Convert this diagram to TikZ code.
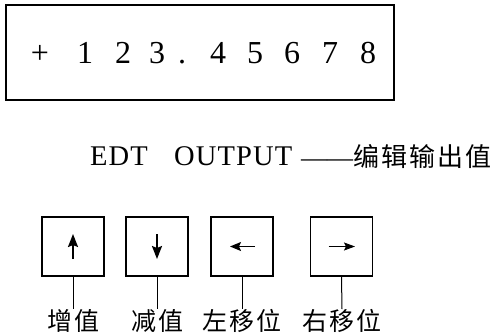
\documentclass[tikz,border=0pt]{standalone}
\usepackage{fontspec}
\setmainfont{Liberation Serif}
\newfontfamily\lsp[LetterSpace=4]{Liberation Serif}
\newfontfamily\cjk[LetterSpace=8]{Noto Sans CJK SC}
\usetikzlibrary{arrows.meta}
\begin{document}
\begin{tikzpicture}[x=1pt,y=-1pt,
  digit/.style={anchor=base,inner sep=0pt,font=\fontsize{32}{36}\selectfont},
  btn/.style={draw,line width=1.1pt,minimum width=62pt,minimum height=59pt,inner sep=0pt},
  lbl/.style={inner sep=0pt,font=\fontsize{25}{28}\selectfont\cjk},
  conn/.style={line width=1pt},
  arrbig/.style={line width=1.9pt,-{Stealth[length=13pt,width=10pt,inset=2pt]}},
  arrmid/.style={line width=1.4pt,-{Stealth[length=11pt,width=9pt,inset=2pt]}},
  arrthin/.style={line width=1pt,-{Stealth[length=11pt,width=8pt,inset=2pt]}}]
\useasboundingbox (0,0) rectangle (498,335);
\fill[white] (0,0) rectangle (498,335);
% display
\node[draw,line width=2pt,minimum width=388pt,minimum height=95pt,inner sep=0pt] (disp) at (200,52.5) {};
\foreach \c/\x [count=\i] in {+/40,1/85,2/123,3/157,./182,4/218,5/255,6/292,7/330,8/368}
  \node[digit] (d\i) at (\x,63.5) {\c};
% text line
\node[anchor=base west,inner sep=0pt,font=\fontsize{28.5}{30}\selectfont\lsp] (edt) at (90,165) {EDT};
\node[anchor=base west,inner sep=0pt,font=\fontsize{28.5}{30}\selectfont\lsp] (out) at (174,165) {OUTPUT};
\node[anchor=base west,inner sep=0pt,font=\fontsize{26}{28}\selectfont] (cn) at (301,166) {——{\cjk 编辑输出值}};
% buttons
\node[btn] (b1) at (73,246.5) {};
\node[btn] (b2) at (157,246.5) {};
\node[btn] (b3) at (242,246.5) {};
\node[btn] (b4) at (341.5,246.5) {};
\draw[arrbig] ([yshift=-12.5pt]b1.center) -- ([yshift=12.5pt]b1.center);
\draw[arrbig] ([yshift=12.5pt]b2.center) -- ([yshift=-12.5pt]b2.center);
\draw[arrmid] ([xshift=13pt]b3.center) -- ([xshift=-12pt]b3.center);
\draw[arrthin] ([xshift=-13pt]b4.center) -- ([xshift=13.5pt]b4.center);
% labels
\node[lbl] (l1) at (73,321) {增值};
\node[lbl] (l2) at (157,321) {减值};
\node[lbl] (l3) at (242,321) {左移位};
\node[lbl] (l4) at (342,321) {右移位};
\draw[conn] (b1.south) -- (l1.north);
\draw[conn] (b2.south) -- (l2.north);
\draw[conn] (b3.south) -- (l3.north);
\draw[conn] (b4.south) -- (l4.north);
\end{tikzpicture}
\end{document}
